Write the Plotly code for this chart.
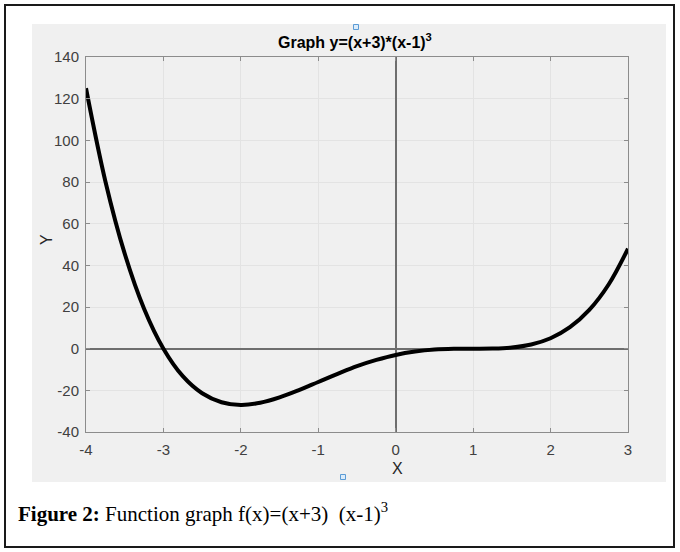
import plotly.graph_objects as go

# Curve points
x_vals = [-4, -3.75, -3.5, -3.25, -3, -2.75, -2.5, -2.25, -2, -1.75, -1.5, -1.25,
          -1, -0.75, -0.5, -0.25, 0, 0.25, 0.5, 0.75, 1, 1.25, 1.5, 1.75,
          2, 2.25, 2.5, 2.75, 3]
y_vals = [125, 80.4, 45.6, 19.2, 0, -13.2, -21.4, -25.7, -27, -26.0, -23.4, -19.9,
          -16, -12.1, -8.4, -5.4, -3, -1.4, -0.44, -0.06, 0, 0.07, 0.56, 2.0,
          5, 10.3, 18.6, 30.8, 48]

x_ticks = [-4, -3, -2, -1, 0, 1, 2, 3]
y_ticks = [-40, -20, 0, 20, 40, 60, 80, 100, 120, 140]

# plot area in pixels (MATLAB-like axes)
L, R, T, B = 86, 628, 57, 432
W, H = 680, 552

def px(x):
    return (x - L) / (R - L)

def py(y):
    return (B - y) / (B - T)

fig = go.Figure()

fig.add_trace(go.Scatter(
    x=x_vals, y=y_vals, mode="lines",
    line=dict(color="black", width=4, shape="spline"),
    showlegend=False, hoverinfo="skip"
))

# outer frame and grey figure background
fig.add_shape(type="rect", xref="paper", yref="paper", layer="below",
              x0=px(32), x1=px(666), y0=py(482), y1=py(24),
              fillcolor="#f0f0f0", line=dict(width=0))
fig.add_shape(type="rect", xref="paper", yref="paper", layer="below",
              x0=px(5), x1=px(674), y0=py(547), y1=py(5),
              fillcolor="rgba(0,0,0,0)", line=dict(color="#1a1a1a", width=2))

# small selection handles
for hx, hy in [(356, 27), (343, 477)]:
    fig.add_shape(type="rect", xref="paper", yref="paper",
                  x0=px(hx - 2.5), x1=px(hx + 2.5), y0=py(hy + 2.5), y1=py(hy - 2.5),
                  fillcolor="#dcecfa", line=dict(color="#5b9bd5", width=1))

sans = "Liberation Sans, Arial"
fig.add_annotation(xref="paper", yref="paper", x=px(355), y=py(41),
                   xanchor="center", yanchor="middle",
                   text="<b>Graph y=(x+3)*(x-1)<sup>3</sup></b>", showarrow=False,
                   font=dict(family=sans, size=16, color="black"))
fig.add_annotation(xref="paper", yref="paper", x=px(397), y=py(468),
                   xanchor="center", yanchor="middle",
                   text="X", showarrow=False,
                   font=dict(family=sans, size=16, color="#262626"))
fig.add_annotation(xref="paper", yref="paper", x=px(46), y=py(240),
                   xanchor="center", yanchor="middle",
                   text="Y", showarrow=False, textangle=-90,
                   font=dict(family=sans, size=16, color="#262626"))
fig.add_annotation(xref="paper", yref="paper", x=px(16), y=py(512),
                   xanchor="left", yanchor="middle", showarrow=False,
                   text="<b>Figure 2:</b> Function graph f(x)=(x+3)  (x-1)<sup>3</sup>",
                   font=dict(family="Liberation Serif, serif", size=21, color="black"))

axis_common = dict(showgrid=True, gridcolor="#e3e3e3", gridwidth=1,
                   showline=True, linecolor="#8c8c8c", linewidth=1, mirror="ticks",
                   ticks="inside", ticklen=4, tickcolor="#8c8c8c",
                   zeroline=True, zerolinecolor="#6e6e6e", zerolinewidth=1.5,
                   tickfont=dict(family=sans, size=15, color="#404040"))

fig.update_xaxes(range=[-4, 3], tickvals=x_ticks,
                 ticktext=[str(v) for v in x_ticks], ticklabelstandoff=4, **axis_common)
fig.update_yaxes(range=[-40, 140], tickvals=y_ticks,
                 ticktext=[str(v) for v in y_ticks], ticklabelstandoff=3, **axis_common)

fig.update_layout(
    width=W, height=H,
    paper_bgcolor="white", plot_bgcolor="white",
    margin=dict(l=L, r=W - R, t=T, b=H - B),
    showlegend=False
)

# page body has a default 8px margin; remove it so the figure sits at the origin
fig.write_html("out.html", config={"displayModeBar": False},
               post_script="document.body.style.margin='0';")
